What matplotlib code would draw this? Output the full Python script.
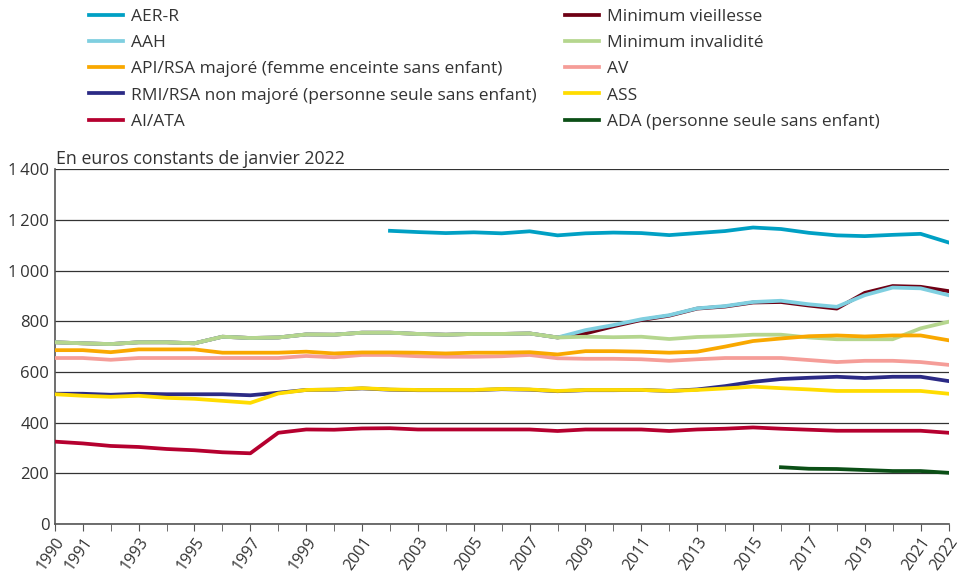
import matplotlib.pyplot as plt
import numpy as np

plt.rcParams['font.family'] = ['Open Sans', 'DejaVu Sans']

years = np.arange(1990, 2023)
nan = np.nan

# Data (euros constants de janvier 2022)
aer_r = [nan] * 12 + [1157, 1152, 1148, 1151, 1147, 1155, 1139, 1147, 1150, 1148, 1140,
                      1148, 1156, 1170, 1164, 1149, 1139, 1136, 1141, 1145, 1111]
aah = [717, 713, 710, 717, 717, 713, 739, 734, 736, 748, 747, 755, 755, 750, 747, 750, 750,
       752, 736, 765, 785, 808, 824, 851, 860, 876, 881, 867, 857, 903, 933, 930, 903]
api_rsa_maj = [686, 686, 678, 689, 689, 689, 676, 676, 676, 680, 673, 677, 677, 676, 673, 676,
               676, 678, 669, 682, 682, 680, 676, 680, 700, 722, 732, 741, 744, 740, 744, 744, 725]
rmi_rsa = [514, 514, 510, 514, 512, 512, 512, 508, 518, 529, 530, 535, 530, 528, 528, 528, 532,
           530, 524, 528, 528, 529, 525, 531, 544, 561, 572, 577, 581, 576, 581, 581, 564]
ai_ata = [325, 318, 308, 304, 296, 291, 283, 279, 360, 373, 372, 377, 378, 373, 373, 373, 373,
          373, 367, 373, 373, 373, 367, 373, 376, 381, 376, 372, 368, 368, 368, 368, 360]
min_vieil = [717, 713, 710, 717, 717, 713, 739, 734, 736, 748, 747, 755, 755, 750, 747, 750, 750,
             752, 736, 752, 780, 805, 822, 850, 858, 874, 876, 862, 850, 912, 939, 936, 919]
min_inval = [717, 713, 710, 717, 717, 713, 739, 734, 736, 748, 747, 755, 755, 750, 747, 750, 750,
             752, 736, 739, 737, 739, 730, 738, 741, 747, 747, 736, 729, 729, 729, 772, 798]
av = [655, 655, 648, 655, 655, 655, 655, 655, 655, 663, 658, 667, 667, 662, 660, 660, 662,
      667, 654, 652, 652, 650, 644, 650, 655, 655, 655, 647, 639, 644, 644, 639, 628]
ass = [512, 506, 502, 506, 498, 494, 486, 478, 515, 529, 531, 536, 531, 529, 529, 529, 533,
       531, 525, 529, 529, 529, 525, 529, 535, 542, 536, 531, 525, 525, 525, 525, 514]
ada = [nan] * 26 + [224, 218, 217, 213, 209, 209, 202]

fig = plt.figure(figsize=(9.62, 5.75), dpi=100)
ax = fig.add_axes([0.057, 0.0887, 0.929, 0.617])

lw = 2.7
h_aer, = ax.plot(years, aer_r, color='#00a0c4', lw=lw, zorder=5, label='AER-R')
h_mv, = ax.plot(years, min_vieil, color='#6e0014', lw=lw, zorder=2, label='Minimum vieillesse')
h_aah, = ax.plot(years, aah, color='#7fcfe0', lw=lw, zorder=3, label='AAH')
h_mi, = ax.plot(years, min_inval, color='#b5d68e', lw=lw, zorder=4, label='Minimum invalidité')
h_av, = ax.plot(years, av, color='#f59d98', lw=lw, zorder=4, label='AV')
h_api, = ax.plot(years, api_rsa_maj, color='#f9a800', lw=lw, zorder=5,
                 label='API/RSA majoré (femme enceinte sans enfant)')
h_rmi, = ax.plot(years, rmi_rsa, color='#2b2a85', lw=lw, zorder=4,
                 label='RMI/RSA non majoré (personne seule sans enfant)')
h_ass, = ax.plot(years, ass, color='#ffdc00', lw=lw, zorder=5, label='ASS')
h_ai, = ax.plot(years, ai_ata, color='#b5002f', lw=lw, zorder=5, label='AI/ATA')
h_ada, = ax.plot(years, ada, color='#0b4f16', lw=lw, zorder=5,
                 label='ADA (personne seule sans enfant)')

ax.set_xlim(1990, 2022)
ax.set_ylim(0, 1400)
yt = np.arange(0, 1401, 200)
ax.set_yticks(yt)
ax.set_yticklabels([f'{v:,}'.replace(',', '\u2009') if v >= 1000 else str(v) for v in yt],
                   fontsize=12, color='#333333')
xt = [1990, 1991] + list(range(1993, 2022, 2)) + [2022]
ax.set_xticks(xt)
ax.set_xticks(years, minor=True)
ax.set_xticklabels([str(y) for y in xt], rotation=55, ha='right', rotation_mode='anchor',
                   fontsize=11.5, color='#333333')
ax.tick_params(axis='x', which='both', direction='out', length=5, color='#555555', pad=2)
ax.tick_params(axis='y', length=0, pad=4)
ax.grid(axis='y', color='#333333', lw=0.9)
ax.set_axisbelow(True)
for s in ['top', 'right']:
    ax.spines[s].set_visible(False)
for s in ['left', 'bottom']:
    ax.spines[s].set_color('#555555')
    ax.spines[s].set_linewidth(1.2)

fig.text(0.058, 0.715, 'En euros constants de janvier 2022', fontsize=12.8, color='#333333')

handles = [h_aer, h_aah, h_api, h_rmi, h_ai, h_mv, h_mi, h_av, h_ass, h_ada]
fig.legend(handles=handles, loc='upper left', bbox_to_anchor=(0.076, 1.012), ncol=2,
           frameon=False, fontsize=12.5, handlelength=1.95, handletextpad=0.5,
           labelspacing=0.58, columnspacing=1.6, labelcolor='#333333')

fig.savefig('out.png', dpi=100)
